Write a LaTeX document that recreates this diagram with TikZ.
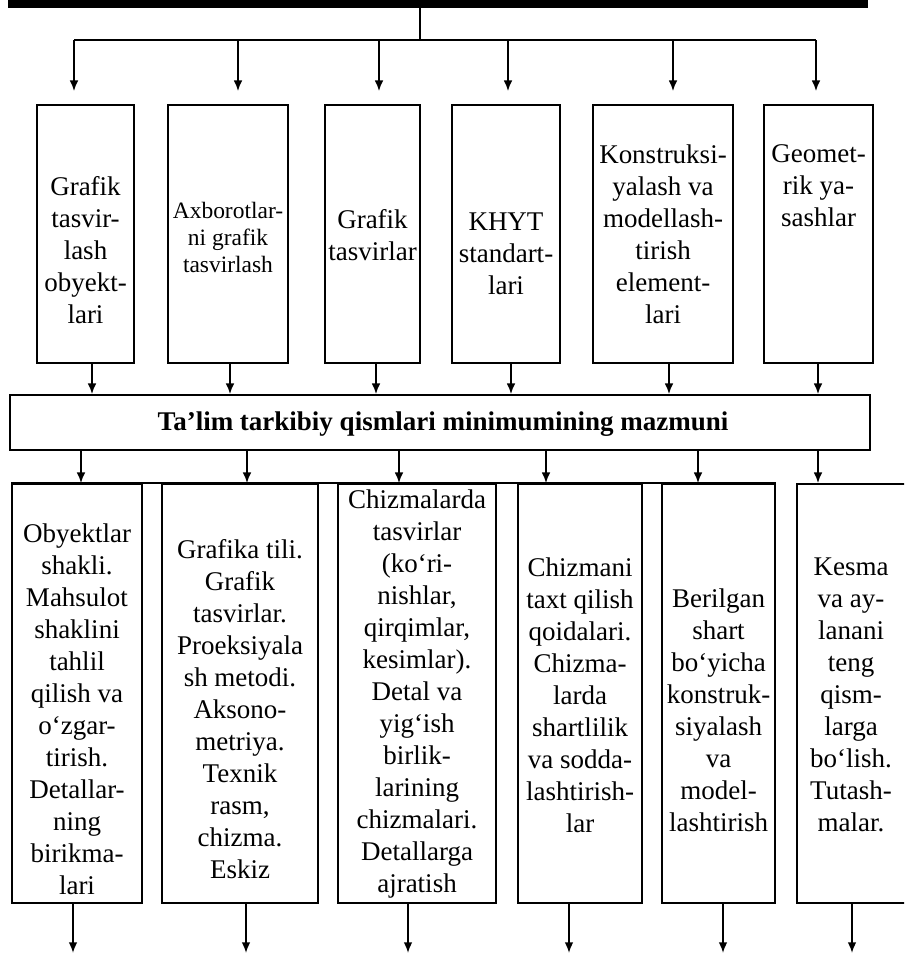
\documentclass[tikz,border=0pt]{standalone}
\usepackage{fontspec}
\setmainfont{Liberation Serif}
\usetikzlibrary{arrows.meta,calc,fit}
\begin{document}
\begin{tikzpicture}[x=0.75pt,y=-0.75pt,
  box/.style={draw, line width=1.3pt, rectangle, inner sep=0pt},
  txt/.style={align=center, inner sep=0pt, font=\fontsize{20.25pt}{24pt}\selectfont},
  stxt/.style={align=center, inner sep=0pt, font=\fontsize{17.6pt}{20.25pt}\selectfont},
  btxt/.style={inner sep=0pt, font=\fontsize{20.25pt}{24pt}\selectfont\bfseries},
  arr/.style={-{Latex[length=8pt,width=6.5pt]}, line width=1.3pt},
  ln/.style={line width=1.3pt}]
\useasboundingbox (0,0) rectangle (904,954);
\clip (0,0) rectangle (904,954);
% top bar
\node[fill=black, inner sep=0pt, fit={(8,0) (868,8)}] (bar) {};
% top boxes
\node[box, fit={(37,105) (134,363)}] (t1) {};
\node[box, fit={(168,105) (288,363)}] (t2) {};
\node[box, fit={(325,105) (420,363)}] (t3) {};
\node[box, fit={(452,105) (560,363)}] (t4) {};
\node[box, fit={(593,105) (733,363)}] (t5) {};
\node[box, fit={(764,105) (873,363)}] (t6) {};
\node[txt] (t1l) at (85.5,250) {Grafik\\tasvir-\\lash\\obyekt-\\lari};
\node[stxt] (t2l) at (228,237) {Axborotlar-\\ni grafik\\tasvirlash};
\node[txt] (t3l) at (372.5,235) {Grafik\\tasvirlar};
\node[txt] (t4l) at (506,254) {KHYT\\standart-\\lari};
\node[txt] (t5l) at (663,234) {Konstruksi-\\yalash va\\modellash-\\tirish\\element-\\lari};
\node[txt] (t6l) at (818.5,186) {Geomet-\\rik ya-\\sashlar};
% middle box
\node[box, fit={(10,395) (870,450)}] (mid) {};
\node[btxt] (midl) at (443,424) {Ta’lim tarkibiy qismlari minimumining mazmuni};
% bottom boxes
\node[box, fit={(12,484) (142,903)}] (b1) {};
\node[box, fit={(162,484) (318,903)}] (b2) {};
\node[box, fit={(338,484) (496,903)}] (b3) {};
\node[box, fit={(518,484) (642,903)}] (b4) {};
\node[box, fit={(662,484) (775,903)}] (b5) {};
\node[box, fit={(797,484) (907,903)}] (b6) {};
\draw[ln] (b1.north west) -- (b5.north east);
\node[txt] (b1l) at (77,709) {Obyektlar\\shakli.\\Mahsulot\\shaklini\\tahlil\\qilish va\\o‘zgar-\\tirish.\\Detallar-\\ning\\birikma-\\lari};
\node[txt] (b2l) at (240,709) {Grafika tili.\\Grafik\\tasvirlar.\\Proeksiyala\\sh metodi.\\Aksono-\\metriya.\\Texnik\\rasm,\\chizma.\\Eskiz};
\node[txt] (b3l) at (417,694) {Chizmalarda\\tasvirlar\\(ko‘ri-\\nishlar,\\qirqimlar,\\kesimlar).\\Detal va\\yig‘ish\\birlik-\\larining\\chizmalari.\\Detallarga\\ajratish};
\node[txt] (b4l) at (580,695) {Chizmani\\taxt qilish\\qoidalari.\\Chizma-\\larda\\shartlilik\\va sodda-\\lashtirish-\\lar};
\node[txt] (b5l) at (718.5,710) {Berilgan\\shart\\bo‘yicha\\konstruk-\\siyalash\\va\\model-\\lashtirish};
\node[txt] (b6l) at (851,695) {Kesma\\va ay-\\lanani\\teng\\qism-\\larga\\bo‘lish.\\Tutash-\\malar.};
% distribution from top bar
\coordinate (hc) at (420,40);
\coordinate (hl) at (74,40);
\coordinate (hr) at (816,40);
\draw[ln] (hc |- bar.south) -- (hc);
\draw[ln] (hl) -- (hr);
\foreach \n/\x in {t1/74,t2/238,t3/379,t4/508,t5/673,t6/816}
  \draw[arr] (\x,40) -- ($(\x,0 |- \n.north)+(0,-13)$);
% top boxes to middle
\foreach \n/\x in {t1/92,t2/230,t3/376,t4/511,t5/669,t6/818}
  \draw[arr] (\x,0 |- \n.south) -- (\x,0 |- mid.north);
% middle to bottom boxes
\foreach \n/\x in {b1/81,b2/247,b3/399,b4/546,b5/698,b6/818}
  \draw[arr] (\x,0 |- mid.south) -- (\x,0 |- \n.north);
% out of bottom boxes
\foreach \n/\x in {b1/73,b2/246,b3/408,b4/569,b5/723,b6/852}
  \draw[arr] (\x,0 |- \n.south) -- (\x,953);
\end{tikzpicture}
\end{document}
